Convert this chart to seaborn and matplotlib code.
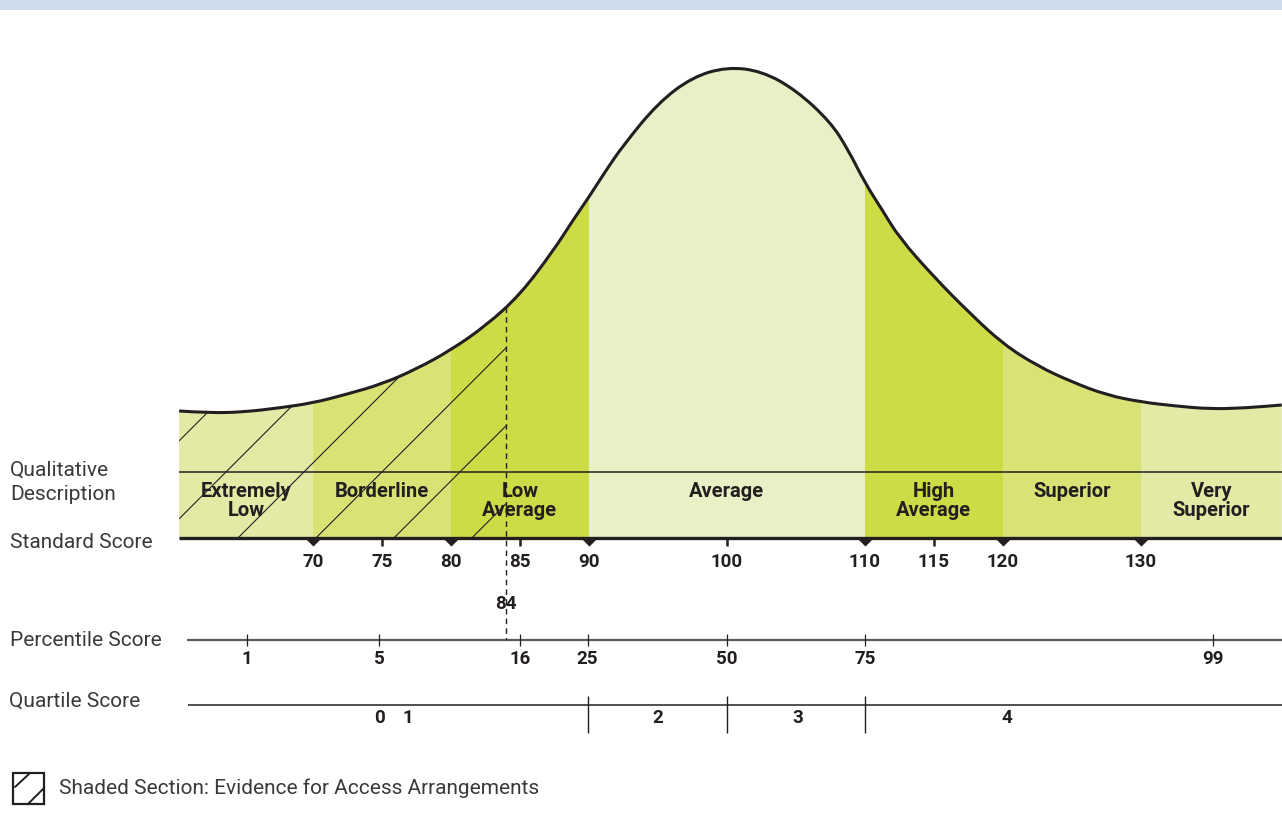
import matplotlib
matplotlib.use("Agg")
import matplotlib.pyplot as plt
from matplotlib.patches import Polygon, Rectangle, PathPatch
from matplotlib.path import Path
import seaborn as sns
import pandas as pd
import numpy as np

# ---- data ----
curve_scores = [60.3, 62.5, 65, 67.5, 70, 72.5, 75, 77.5, 80, 82.5, 85, 87.5, 88.75, 90,
                91.25, 92.5, 95, 97.5, 100, 102.5, 105, 107.5, 108.75, 110, 111.25, 112.5,
                115, 117.5, 120, 122.5, 125, 127.5, 130, 132.5, 135, 137.5, 140.2]
curve_heights = [127, 125, 126, 130, 135, 144, 154, 169, 188, 212, 243, 289, 316, 341,
                 368, 393, 435, 461, 471, 467, 448, 416, 389, 355, 328, 300,
                 261, 226, 194, 172, 156, 143, 136, 132, 129, 130, 133]

band_edges = [60.3, 70, 80, 90, 110, 120, 130, 140.2]
band_labels = ["Extremely\nLow", "Borderline", "Low\nAverage", "Average",
               "High\nAverage", "Superior", "Very\nSuperior"]
band_colors = ["#e2eaa6", "#d8e275", "#cddc46", "#e9f0c6", "#cddc46", "#d8e275", "#e2eaa6"]

std_ticks = [70, 75, 80, 85, 90, 100, 110, 115, 120, 130]
std_markers = [70, 80, 90, 110, 120, 130]

percentile_labels = ["1", "5", "16", "25", "50", "75", "99"]
percentile_pos = [65.2, 74.8, 85.0, 89.9, 100, 110, 135.2]

quartile_dividers = [89.9, 100, 110]
quartile_labels = ["0", "1", "2", "3", "4"]
quartile_pos = [74.8, 76.9, 95.0, 105.1, 120.3]

cutoff_score = 84

# ---- layout helpers (pixel -> data, used for placing annotations) ----
X0, PX = 47.32, 13.8   # score at left edge, pixels per score point
Y0 = 538               # pixel row of the standard score baseline


def px(x, y):
    return X0 + x / PX, Y0 - y


def smooth_path(xs, ys, close_to=None):
    # quadratic bezier through midpoints of the read points
    pts = list(zip(xs, ys))
    verts, codes = [pts[0]], [Path.MOVETO]
    for i in range(1, len(pts) - 1):
        mid = ((pts[i][0] + pts[i + 1][0]) / 2, (pts[i][1] + pts[i + 1][1]) / 2)
        verts += [pts[i], mid]
        codes += [Path.CURVE3, Path.CURVE3]
    verts.append(pts[-1])
    codes.append(Path.LINETO)
    if close_to is not None:
        verts += [(xs[-1], close_to), (xs[0], close_to), pts[0]]
        codes += [Path.LINETO, Path.LINETO, Path.CLOSEPOLY]
    return Path(verts, codes)


sns.set_theme(style="white")
plt.rcParams['font.family'] = ['Roboto', 'DejaVu Sans']
DARK = "#231f20"

fig = plt.figure(figsize=(12.82, 8.32), dpi=100)
ax = fig.add_axes([0, 0, 1, 1])
ax.set_xlim(X0, X0 + 1282 / PX)
ax.set_ylim(Y0 - 832, Y0)
ax.axis("off")

fig.patches.append(Rectangle((0, 1 - 10 / 832), 1, 10 / 832, transform=fig.transFigure,
                             facecolor="#cddcec", edgecolor="none", zorder=0))

# area under the curve, used as clip path
clip_poly = PathPatch(smooth_path(curve_scores, curve_heights, close_to=0),
                      facecolor="none", edgecolor="none", transform=ax.transData)
ax.add_patch(clip_poly)

for lo, hi, col in zip(band_edges[:-1], band_edges[1:], band_colors):
    fb = ax.fill_between([lo, hi], 0, 540, color=col, linewidth=0, zorder=1)
    fb.set_clip_path(clip_poly)

# hatch for the "access arrangements" section
for x0 in np.arange(53.26, cutoff_score, 5.65):
    xs = max(x0, curve_scores[0])
    ln, = ax.plot([xs, cutoff_score], [(xs - x0) * PX, (cutoff_score - x0) * PX],
                  color=DARK, lw=0.8, zorder=2)
    ln.set_clip_path(clip_poly)

# horizontal rules
ax.hlines(66, band_edges[0], band_edges[-1], color=DARK, lw=1.1, zorder=3)
ax.hlines(0, band_edges[0], band_edges[-1], color=DARK, lw=2.4, zorder=4)

# curve
ax.add_patch(PathPatch(smooth_path(curve_scores, curve_heights), facecolor="none",
                       edgecolor=DARK, lw=2.2, zorder=5, capstyle="butt"))

# band labels
for lo, hi, lab in zip(band_edges[:-1], band_edges[1:], band_labels):
    ax.text((lo + hi) / 2, 56, lab, ha="center", va="top", fontsize=14.5,
            fontweight="bold", color=DARK, linespacing=0.98, zorder=6)

# standard score ticks
minor = [t for t in std_ticks if t not in std_markers]
ax.vlines(minor, -8, 0, color=DARK, lw=1.8, zorder=4)
marker_df = pd.DataFrame({"score": std_markers, "y": [0] * len(std_markers)})
sns.scatterplot(data=marker_df, x="score", y="y", marker=[(-1, 0), (1, 0), (0, -1)],
                s=135, color=DARK, linewidth=0, zorder=4, ax=ax, legend=False)
ax.set_xlabel("")
ax.set_ylabel("")
for t in std_ticks:
    ax.text(t, -24, str(t), ha="center", va="center", fontsize=13.5,
            fontweight="bold", color=DARK)

# cutoff line
top = np.interp(cutoff_score, curve_scores, curve_heights)
ax.plot([cutoff_score, cutoff_score], [top, -102], color=DARK, lw=1,
        ls=(0, (4, 3)), zorder=5)
ax.text(cutoff_score, -66, str(cutoff_score), ha="center", va="center",
        fontsize=13.5, fontweight="bold", color=DARK)

# percentile row
ax.hlines(-102, px(187, 0)[0], band_edges[-1], color="#5a5a5a", lw=1.6)
ax.vlines(percentile_pos, -108, -96, color=DARK, lw=0.9)
for p, lab in zip(percentile_pos, percentile_labels):
    ax.text(p, -121, lab, ha="center", va="center", fontsize=13.5,
            fontweight="bold", color=DARK)

# quartile row
ax.hlines(-167, px(188, 0)[0], band_edges[-1], color=DARK, lw=1.1)
ax.vlines(quartile_dividers, -195, -158, color=DARK, lw=1.0)
for p, lab in zip(quartile_pos, quartile_labels):
    ax.text(p, -180, lab, ha="center", va="center", fontsize=13.5,
            fontweight="bold", color=DARK)

# row titles
LBL = "#3a3a3a"
for (x, y), txt in [((10, 470), "Qualitative"), ((10, 495), "Description"),
                    ((10, 543), "Standard Score"), ((10, 640), "Percentile Score"),
                    ((9, 701), "Quartile Score")]:
    ax.text(*px(x, y), txt, ha="left", va="center", fontsize=15, color=LBL)

# legend
lx, ly = px(13, 804)
ax.add_patch(Rectangle((lx, ly), 31 / PX, 31, facecolor="white", edgecolor=DARK, lw=1.6))
for (xa, ya), (xb, yb) in [((15, 787), (29, 774)), ((29, 803), (43, 789))]:
    (a1, b1), (a2, b2) = px(xa, ya), px(xb, yb)
    ax.plot([a1, a2], [b1, b2], color=DARK, lw=1.4)
ax.text(*px(59, 788), "Shaded Section: Evidence for Access Arrangements",
        ha="left", va="center", fontsize=15, color=LBL)

fig.savefig("out.png", dpi=100)
